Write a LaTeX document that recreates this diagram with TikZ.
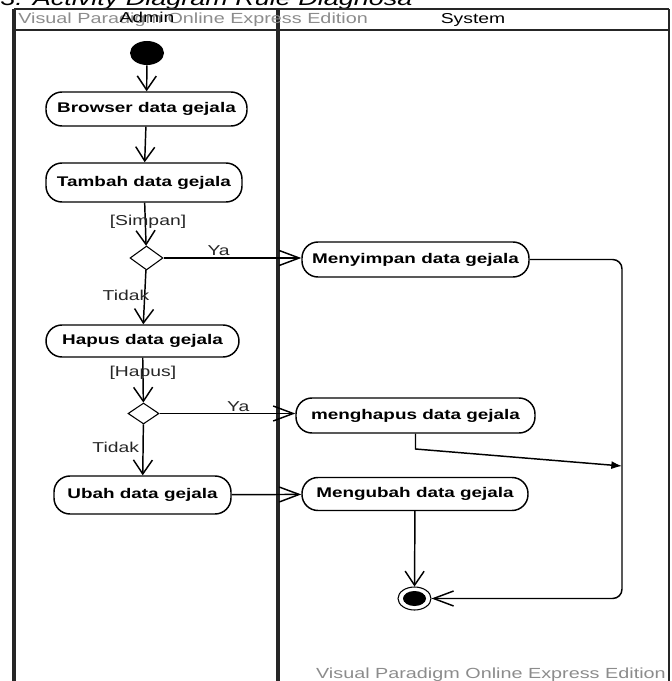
\documentclass[tikz,border=0pt]{standalone}
\usepackage{fontspec}
\setmainfont{Liberation Sans}[FakeStretch=1.35]
\usetikzlibrary{arrows.meta,shapes.geometric}

\begin{document}
\begin{tikzpicture}[x=0.75pt,y=-0.75pt,
  lane/.style={line width=2.4pt,draw=black!85},
  frame/.style={line width=1.5pt,draw=black!85},
  act/.style={draw,line width=1.1pt,rounded corners=12pt,inner sep=0pt,
    font=\fontsize{10.5}{12}\selectfont\bfseries},
  decision/.style={draw,diamond,line width=0.8pt,inner sep=0pt},
  startnode/.style={ellipse,fill=black,inner sep=0pt,minimum width=25.5pt,minimum height=18pt},
  endring/.style={ellipse,draw,line width=0.8pt,inner sep=0pt,minimum width=24.75pt,minimum height=17.25pt},
  enddot/.style={ellipse,fill=black,inner sep=0pt,minimum width=17.25pt,minimum height=11.25pt},
  flow/.style={line width=1.1pt},
  vtip/.style={-{Straight Barb[length=10.5pt,width=14.25pt]}},
  htip/.style={-{Straight Barb[length=15pt,width=11.25pt]}},
  lbl/.style={inner sep=1pt,text=black!85,font=\fontsize{10.75}{12}\selectfont},
  wm/.style={inner sep=0pt,text=black!45,font=\fontsize{11}{12}\selectfont},
  hdr/.style={inner sep=0pt,font=\fontsize{10.75}{12}\selectfont}]

\useasboundingbox (0,0) rectangle (671,681);
\clip (0,0) rectangle (671,681);

% heading of the section, cut by the page edge
\node[anchor=base west,inner sep=0pt,font=\fontsize{15}{17}\selectfont\itshape]
  (title) at (0,6) {3. Activity Diagram Rule Diagnosa};

% swimlane frame
\draw[frame] (14,9) -- (669,9);
\draw[frame] (14,30) -- (669,30);
\draw[frame] (669,9) -- (669,690);
\draw[lane] (14,9) -- (14,690);
\draw[lane] (278,9) -- (278,690);

% lane headers and watermarks
\node[wm,anchor=base west] (wmtop) at (18,24) {Visual Paradigm Online Express Edition};
\node[hdr,anchor=base] (hadmin) at (147,23) {Admin};
\node[hdr,anchor=base] (hsys) at (473,24) {System};
\node[wm,anchor=base east] (wmbot) at (666,678) {Visual Paradigm Online Express Edition};

% Admin lane
\node[startnode] (init) at (147,53) {};
\node[act,minimum width=150.75pt,minimum height=25.5pt] (browser) at (146.5,109) {Browser data gejala};
\node[act,minimum width=147pt,minimum height=29.25pt] (tambah) at (144,182.5) {Tambah data gejala};
\node[decision,minimum width=24.75pt,minimum height=18pt] (d1) at (146.5,258) {};
\node[act,minimum width=144.75pt,minimum height=24pt] (hapus) at (142.5,341) {Hapus data gejala};
\node[decision,minimum width=23.25pt,minimum height=15.75pt] (d2) at (143.5,413.5) {};
\node[act,minimum width=132.75pt,minimum height=28.5pt] (ubah) at (142.5,495) {Ubah data gejala};

% System lane
\node[act,minimum width=170.25pt,minimum height=26.25pt] (menyimpan) at (415.5,259.5) {Menyimpan data gejala};
\node[act,minimum width=179.25pt,minimum height=26.25pt] (menghapus) at (415.5,415.5) {menghapus data gejala};
\node[act,minimum width=169.5pt,minimum height=24.75pt] (mengubah) at (415,494) {Mengubah data gejala};
\node[endring] (final) at (414.5,598.5) {};
\node[enddot] (finaldot) at (414.5,598.5) {};

\coordinate (rail) at (622,0);
\coordinate (join) at (622,466);
\coordinate (bend) at (416,449);

% control flows
\draw[flow,vtip] (init) -- (browser);
\draw[flow,vtip] (browser) -- (tambah);
\draw[flow,vtip] (tambah) -- node[lbl,pos=.45,xshift=2pt] (lsimpan) {[Simpan]} (d1);
\draw[flow,htip] (d1.east) -- node[lbl,above,pos=.4] (lya1) {Ya} (d1.east -| menyimpan.west);
\draw[flow,vtip] (d1) -- node[lbl,pos=.47,xshift=-14pt] (ltidak1) {Tidak} (hapus);
\draw[flow,vtip] (hapus) -- node[lbl,pos=.33] (lhapus) {[Hapus]} (d2);
\draw[flow,htip] (d2.east) -- node[lbl,above,pos=.58] (lya2) {Ya} (d2.east -| menghapus.west);
\draw[flow,vtip] (d2) -- node[lbl,pos=.45,xshift=-20.5pt] (ltidak2) {Tidak} (ubah);
\draw[flow,htip] (ubah) -- (mengubah);
\draw[flow,vtip] (mengubah) -- (final);
\draw[flow,htip,rounded corners=7pt] (menyimpan.east) -- (menyimpan.east -| rail)
  -- (final -| rail) -- (final.east);
\draw[flow,-{Latex[length=8pt,width=6pt]}] (menghapus.south) -- (menghapus.south |- bend) -- (join);
\end{tikzpicture}
\end{document}
